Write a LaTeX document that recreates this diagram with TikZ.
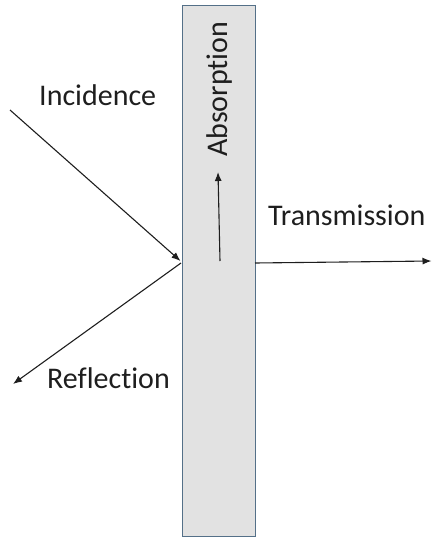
\documentclass[tikz,border=0pt]{standalone}
\usepackage{fontspec}
\setmainfont{Carlito}[Ligatures={NoCommon}]
\usetikzlibrary{arrows.meta}
\definecolor{slabfill}{RGB}{226,226,226}
\definecolor{slabedge}{RGB}{84,112,136}
\definecolor{raycol}{RGB}{30,30,30}
\tikzset{
  ray/.style={draw=raycol, line width=1.1pt, -{Latex[length=9pt,width=7pt]}},
  lbl/.style={inner sep=0pt, text=raycol, font=\fontsize{30}{36}\selectfont}
}
\begin{document}
\begin{tikzpicture}[x=1pt,y=-1pt]
\useasboundingbox (0,0) rectangle (432,538);
\node[draw=slabedge, fill=slabfill, line width=1.8pt, minimum width=73pt, minimum height=531pt, inner sep=0pt, anchor=north west] (slab) at (181.5,4.5) {};
\coordinate (incS) at (10,110);
\coordinate (hit) at (180.5,261);
\coordinate (refS) at (181,263);
\coordinate (refE) at (13,384);
\coordinate (absS) at (220,261);
\coordinate (absE) at (218,172);
\coordinate (traS) at (255,263);
\coordinate (traE) at (431.5,261);
\draw[ray] (incS) -- (hit);
\draw[ray] (refS) -- (refE);
\draw[ray] (absS) -- (absE);
\draw[ray] (traS) -- (traE);
\node[lbl, anchor=base west] (inc) at (39,105) {Incidence};
\node[lbl, anchor=base west] (ref) at (47,388) {Reflection};
\node[lbl, anchor=base west] (tra) at (268,225) {Transmission};
\node[lbl, anchor=base west, rotate=90] (abs) at (227,157) {Absorption};
\end{tikzpicture}
\end{document}
